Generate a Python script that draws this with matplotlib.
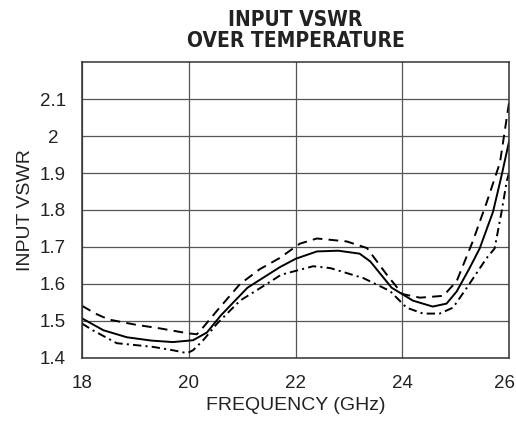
import matplotlib

matplotlib.use('Agg')
import matplotlib.pyplot as plt
import matplotlib.transforms as mtransforms

# frequency (GHz) / VSWR
freq_typ = [18.0, 18.4, 18.84, 19.3, 19.7, 20.08, 20.34, 20.6, 21.1, 21.7, 22.0, 22.4,
            22.8, 23.2, 23.4, 23.8, 24.2, 24.57, 24.83, 25.02, 25.25, 25.45, 25.7, 25.86, 26.0]
vswr_typ = [1.507, 1.475, 1.456, 1.447, 1.443, 1.448, 1.469, 1.515, 1.59, 1.645, 1.668, 1.688,
            1.690, 1.682, 1.661, 1.59, 1.555, 1.539, 1.547, 1.58, 1.64, 1.696, 1.795, 1.893, 1.985]

freq_hot = [18.0, 18.25, 18.5, 19.0, 19.46, 19.97, 20.15, 20.27, 20.53, 20.96, 21.33, 21.7,
            22.08, 22.4, 22.96, 23.34, 23.7, 24.0, 24.33, 24.77, 25.02, 25.32, 25.58, 25.83, 26.0]
vswr_hot = [1.541, 1.52, 1.504, 1.49, 1.48, 1.467, 1.464, 1.483, 1.528, 1.60, 1.64, 1.67,
            1.709, 1.723, 1.715, 1.697, 1.627, 1.573, 1.563, 1.568, 1.608, 1.715, 1.82, 1.928, 2.09]

freq_cold = [18.0, 18.2, 18.65, 19.33, 19.7, 19.97, 20.08, 20.27, 20.53, 20.96, 21.46, 21.73,
             22.33, 22.65, 23.27, 23.77, 24.08, 24.39, 24.7, 24.95, 25.21, 25.58, 25.73, 25.86,
             25.96, 26.0]
vswr_cold = [1.493, 1.475, 1.44, 1.43, 1.421, 1.413, 1.421, 1.448, 1.493, 1.555, 1.60, 1.625,
             1.648, 1.643, 1.616, 1.581, 1.536, 1.52, 1.52, 1.536, 1.59, 1.67, 1.696, 1.795,
             1.88, 1.9]

xticks = [18, 20, 22, 24, 26]
yticks = [1.4, 1.5, 1.6, 1.7, 1.8, 1.9, 2.0, 2.1]
ytick_labels = ['1.4', '1.5', '1.6', '1.7', '1.8', '1.9', '2', '2.1']

plt.rcParams['font.family'] = ['Liberation Sans', 'DejaVu Sans']
plt.rcParams['lines.scale_dashes'] = False

fig = plt.figure(figsize=(5.16, 4.23), dpi=100)
ax = fig.add_axes([0.159, 0.1537, 0.8275, 0.6997])

ax.plot(freq_typ, vswr_typ, color='black', lw=1.4)
ax.plot(freq_hot, vswr_hot, color='black', lw=1.4, dashes=(7, 4.5))
ax.plot(freq_cold, vswr_cold, color='black', lw=1.4, dashes=(6, 3, 1.5, 3))

ax.set_xlim(18, 26)
ax.set_ylim(1.4, 2.2)
ax.set_xticks(xticks)
ax.set_yticks(yticks)
ax.set_yticklabels(ytick_labels, ha='center')
ax.tick_params(axis='both', length=0, labelsize=13.5, colors='#222222')
ax.tick_params(axis='x', pad=12)
ax.tick_params(axis='y', pad=21)
ax.grid(True, color='#555555', lw=0.9)
for s in ax.spines.values():
    s.set_color('#333333')
    s.set_linewidth(1.1)

# last x label sits a little inside so it is not clipped
last = ax.get_xticklabels()[-1]
last.set_transform(last.get_transform() + mtransforms.ScaledTranslation(-5 / 100, 0, fig.dpi_scale_trans))

ax.set_xlabel('FREQUENCY (GHz)', fontsize=14, color='#222222', labelpad=4)
ax.set_ylabel('INPUT VSWR', fontsize=14, color='#222222', labelpad=4)
ax.set_title('INPUT VSWR\nOVER TEMPERATURE', fontsize=15, fontweight='bold',
             family=['DejaVu Sans'], fontstretch='condensed', linespacing=1.05,
             color='#222222', pad=11)

fig.savefig('out.png', dpi=100)
